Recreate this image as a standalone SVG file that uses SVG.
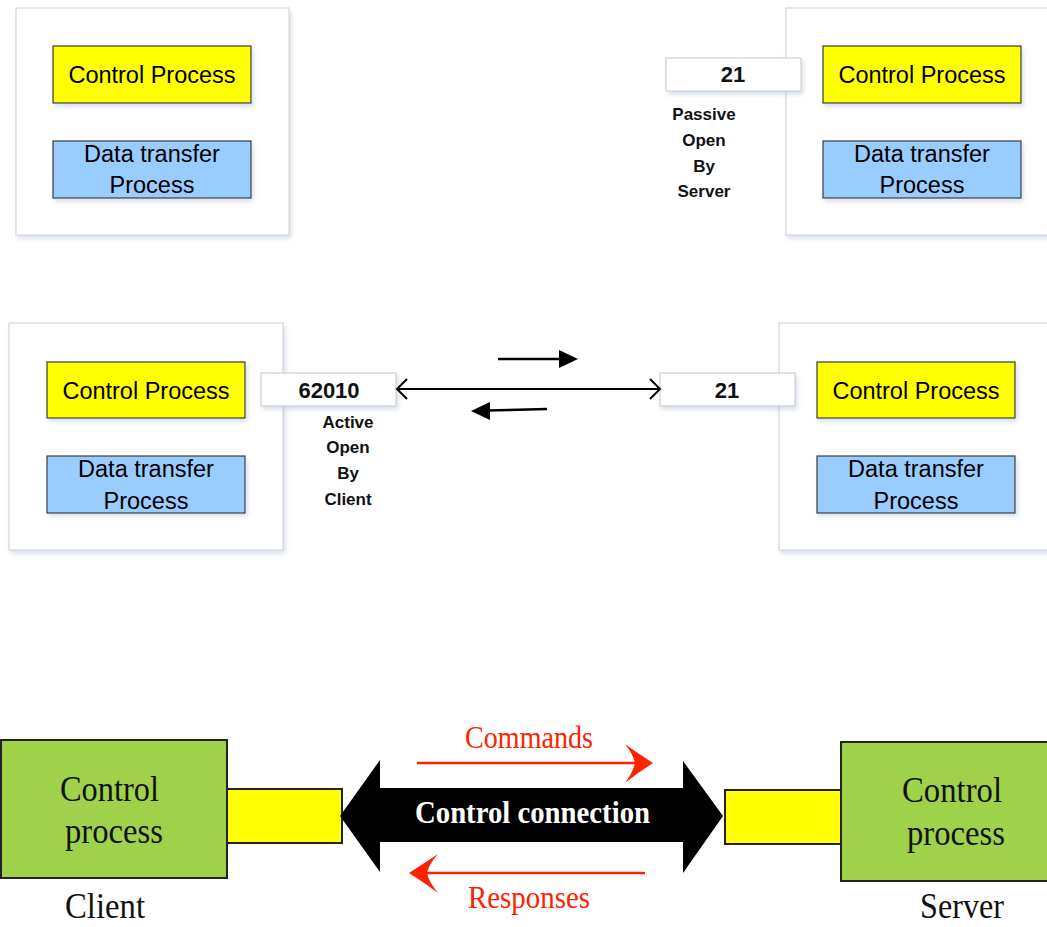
<svg xmlns="http://www.w3.org/2000/svg" width="1047" height="927" viewBox="0 0 1047 927">
<defs>
<filter id="sh" x="-10%" y="-10%" width="130%" height="130%">
<feDropShadow dx="2" dy="3" stdDeviation="2" flood-color="#8fa8c8" flood-opacity="0.35"/>
</filter>
<style>
.panel{fill:#fff;stroke:#d0d0d0;stroke-width:1;filter:url(#sh)}
.port{fill:#fff;stroke:#c8c8c8;stroke-width:1;filter:url(#sh)}
.ctl{fill:#ffff00;stroke:#3a3a3a;stroke-width:1.2;filter:url(#sh)}
.dat{fill:#99ccff;stroke:#3a3a3a;stroke-width:1.2;filter:url(#sh)}
.lbl{font-family:"Liberation Sans",Arial,sans-serif;font-size:23.5px;fill:#000;text-anchor:middle}
.bld{font-family:"Liberation Sans",Arial,sans-serif;font-weight:bold;font-size:17px;fill:#111;text-anchor:middle}
.num{font-family:"Liberation Sans",Arial,sans-serif;font-weight:bold;font-size:22px;fill:#111;text-anchor:middle}
.green{fill:#a0d14b;stroke:#222;stroke-width:2}
.yel{fill:#ffff00;stroke:#222;stroke-width:2}
.ser{font-family:"Liberation Serif","Times New Roman",serif;font-size:36px;fill:#111}
.red{font-family:"Liberation Serif","Times New Roman",serif;font-size:32px;fill:#ff2200}
.line{stroke:#000;fill:none}
</style>
</defs>

<!-- Top-left panel -->
<g id="panel-client-top">
<rect class="panel" x="16" y="8" width="273" height="227"/>
<g id="client-top-control">
<rect class="ctl" x="53" y="46" width="198" height="57"/>
<text class="lbl" x="152" y="83">Control Process</text>
</g>
<g id="client-top-data">
<rect class="dat" x="53" y="141" width="198" height="57"/>
<text class="lbl" x="152" y="162">Data transfer</text>
<text class="lbl" x="152" y="193">Process</text>
</g>
</g>

<!-- Top-right panel -->
<g id="panel-server-top">
<rect class="panel" x="786" y="8" width="270" height="227"/>
<g id="server-top-control">
<rect class="ctl" x="823" y="46" width="198" height="57"/>
<text class="lbl" x="922" y="83">Control Process</text>
</g>
<g id="server-top-data">
<rect class="dat" x="823" y="141" width="198" height="57"/>
<text class="lbl" x="922" y="162">Data transfer</text>
<text class="lbl" x="922" y="193">Process</text>
</g>
</g>
<g id="port-server-top">
<rect class="port" x="666" y="58" width="135" height="33"/>
<text class="num" x="733" y="82">21</text>
</g>
<g id="label-passive">
<text class="bld" x="704" y="120">Passive</text>
<text class="bld" x="704" y="146">Open</text>
<text class="bld" x="704" y="172">By</text>
<text class="bld" x="704" y="197">Server</text>
</g>

<!-- Middle-left panel -->
<g id="panel-client-mid">
<rect class="panel" x="9" y="323" width="274" height="227"/>
<g id="client-mid-control">
<rect class="ctl" x="47" y="362" width="198" height="56"/>
<text class="lbl" x="146" y="399">Control Process</text>
</g>
<g id="client-mid-data">
<rect class="dat" x="47" y="456" width="198" height="57"/>
<text class="lbl" x="146" y="477">Data transfer</text>
<text class="lbl" x="146" y="509">Process</text>
</g>
</g>
<g id="port-client-mid">
<rect class="port" x="261" y="373" width="135" height="33"/>
<text class="num" x="329" y="398">62010</text>
</g>
<g id="label-active">
<text class="bld" x="348" y="428">Active</text>
<text class="bld" x="348" y="453">Open</text>
<text class="bld" x="348" y="479">By</text>
<text class="bld" x="348" y="505">Client</text>
</g>

<!-- Middle-right panel -->
<g id="panel-server-mid">
<rect class="panel" x="779" y="323" width="275" height="227"/>
<g id="server-mid-control">
<rect class="ctl" x="817" y="362" width="198" height="56"/>
<text class="lbl" x="916" y="399">Control Process</text>
</g>
<g id="server-mid-data">
<rect class="dat" x="817" y="456" width="198" height="57"/>
<text class="lbl" x="916" y="477">Data transfer</text>
<text class="lbl" x="916" y="509">Process</text>
</g>
</g>
<g id="port-server-mid">
<rect class="port" x="660" y="373" width="135" height="33"/>
<text class="num" x="727" y="398">21</text>
</g>

<!-- Bottom section nodes -->
<g id="client-control-process">
<rect class="green" x="1" y="740" width="226" height="138"/>
<text class="ser" x="60" y="801" textLength="99" lengthAdjust="spacingAndGlyphs">Control</text>
<text class="ser" x="65" y="843" textLength="98" lengthAdjust="spacingAndGlyphs">process</text>
</g>
<g id="client-port-bottom">
<rect class="yel" x="227" y="789" width="115" height="54"/>
</g>
<g id="server-control-process">
<rect class="green" x="841" y="742" width="215" height="139"/>
<text class="ser" x="902" y="802" textLength="100" lengthAdjust="spacingAndGlyphs">Control</text>
<text class="ser" x="907" y="845" textLength="98" lengthAdjust="spacingAndGlyphs">process</text>
</g>
<g id="server-port-bottom">
<rect class="yel" x="725" y="790" width="116" height="54"/>
</g>
<text class="ser" x="65" y="918" font-size="33" textLength="80" lengthAdjust="spacingAndGlyphs">Client</text>
<text class="ser" x="920" y="918" font-size="33" textLength="84" lengthAdjust="spacingAndGlyphs">Server</text>

<!-- Connectors -->
<g id="connectors">
<line class="line" x1="397" y1="389" x2="659" y2="389" stroke-width="2"/>
<polyline class="line" points="407,379 397,389 407,399" stroke-width="2"/>
<polyline class="line" points="650,379 660,389 650,399" stroke-width="2"/>
<line class="line" x1="498" y1="359" x2="562" y2="359" stroke-width="2.5"/>
<polygon points="559,350 578,359 559,368" fill="#000"/>
<line class="line" x1="547" y1="409" x2="486" y2="410.5" stroke-width="2.5"/>
<polygon points="490,402 471,411 490,420" fill="#000"/>
<polygon id="control-connection" points="340,816 380,760 380,788 683,788 683,761 723,816 683,873 683,842 380,842 380,872" fill="#000"/>
<text x="415" y="823" font-family="Liberation Serif,Times New Roman,serif" font-weight="bold" font-size="32" fill="#fff" textLength="235" lengthAdjust="spacingAndGlyphs">Control connection</text>
<line x1="417" y1="763" x2="640" y2="763" stroke="#ff2200" stroke-width="2.5"/>
<path d="M653,763 Q636,752 625,744 Q633,754 635,763 Q633,772 625,783 Q636,774 653,763 Z" fill="#ff2200"/>
<text class="red" x="465" y="748" textLength="128" lengthAdjust="spacingAndGlyphs">Commands</text>
<line x1="645" y1="873" x2="422" y2="873" stroke="#ff2200" stroke-width="2.5"/>
<path d="M409,873 Q426,862 438,854 Q429,864 427,873 Q429,882 438,893 Q426,884 409,873 Z" fill="#ff2200"/>
<text class="red" x="468" y="908" textLength="122" lengthAdjust="spacingAndGlyphs">Responses</text>
</g>
</svg>
